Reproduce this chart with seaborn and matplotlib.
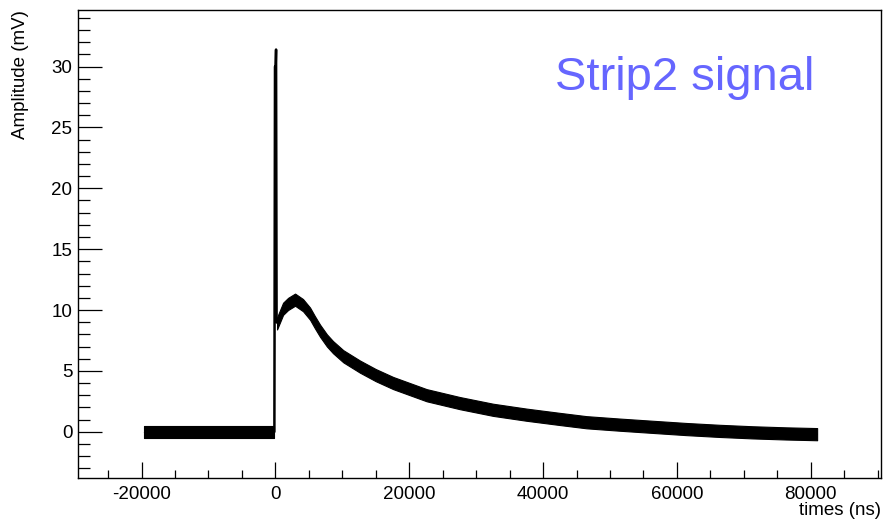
import numpy as np
import pandas as pd
import matplotlib
matplotlib.use("Agg")
import matplotlib.pyplot as plt
from matplotlib.ticker import MultipleLocator
import seaborn as sns

sns.set_style("white")
plt.rcParams['font.family'] = ['Liberation Sans', 'DejaVu Sans']
plt.rcParams['axes.unicode_minus'] = False
plt.rcParams.update({"text.color": "black", "axes.labelcolor": "black",
                     "xtick.color": "black", "ytick.color": "black"})

# baseline before the pulse (time in ns, amplitude in mV)
baseline_t = [-19600, -15000, -10000, -5000, -150]
baseline_amp = [-0.05, -0.05, -0.05, -0.05, -0.05]

# fast spike at t = 0
spike_t = [-150, -60, 40, 100, 180]
spike_amp = [0.0, 30.0, 30.0, 31.4, 9.0]

# slow bump and decay after the spike
decay_t = [250, 1150, 1900, 2940, 4130, 5180, 5900, 6670, 7700, 8610, 10150, 12640,
           15000, 17600, 22600, 27570, 32540, 37520, 42500, 46480, 51500, 56420,
           61400, 66370, 71300, 76330, 80950]
decay_amp = [8.9, 10.1, 10.5, 10.85, 10.4, 9.7, 9.0, 8.3, 7.5, 6.95, 6.2, 5.35,
             4.65, 4.0, 3.0, 2.35, 1.8, 1.4, 1.05, 0.78, 0.58, 0.4,
             0.22, 0.07, -0.05, -0.14, -0.2]

noise_half = 0.5  # half width of the noise band

base = pd.DataFrame({"t": baseline_t, "amp": baseline_amp})
spike = pd.DataFrame({"t": spike_t, "amp": spike_amp})
decay = pd.DataFrame({"t": decay_t, "amp": decay_amp})

fig = plt.figure(figsize=(8.86, 5.2), dpi=100)
ax = fig.add_axes([0.088, 0.0808, 0.9064, 0.9])

for d in (base, decay):
    ax.fill_between(d.t, d.amp - noise_half, d.amp + noise_half, color="black", lw=0.8)
    sns.lineplot(data=d, x="t", y="amp", color="black", lw=1.0, estimator=None, ax=ax)
sns.lineplot(data=spike, x="t", y="amp", color="black", lw=1.8, estimator=None, ax=ax)

ax.set_xlim(-29500, 90500)
ax.set_ylim(-3.8, 34.65)
ax.xaxis.set_major_locator(MultipleLocator(20000))
ax.xaxis.set_minor_locator(MultipleLocator(5000))
ax.yaxis.set_major_locator(MultipleLocator(5))
ax.yaxis.set_minor_locator(MultipleLocator(1))
ax.tick_params(axis="both", which="both", direction="in", width=0.9, labelsize=13.5,
               colors="black", top=False, right=False, left=True, bottom=True)
ax.tick_params(axis="y", which="major", length=17, pad=4)
ax.tick_params(axis="y", which="minor", length=8.5)
ax.tick_params(axis="x", which="major", length=11.5, pad=6)
ax.tick_params(axis="x", which="minor", length=6)
for s in ax.spines.values():
    s.set_color("black")
    s.set_linewidth(1.0)

ax.set_xlabel("times (ns)", fontsize=13.5, loc="right")
ax.xaxis.set_label_coords(1.0, -0.052)
ax.set_ylabel("Amplitude (mV)", fontsize=13.5, loc="top")
ax.yaxis.set_label_coords(-0.061, 1.0)

ax.text(0.594, 0.829, "Strip2 signal", transform=ax.transAxes, fontsize=34,
        color="#6666ff", ha="left", va="baseline")

fig.savefig("out.png", dpi=100)
